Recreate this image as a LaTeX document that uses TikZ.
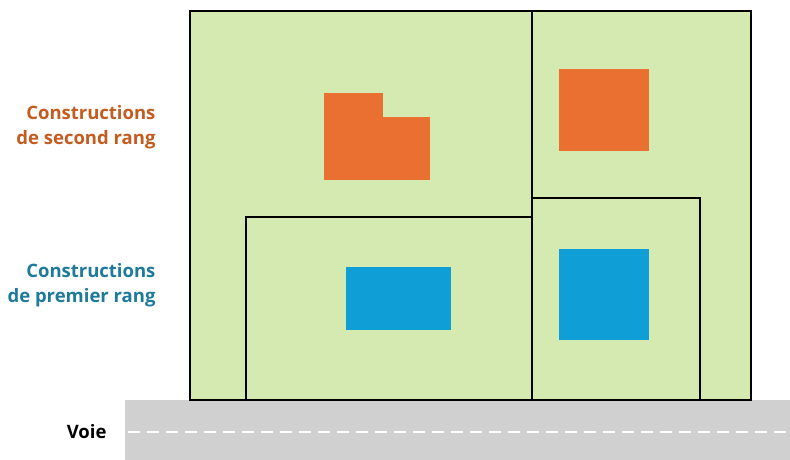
\documentclass[tikz,border=0pt]{standalone}
\usepackage{fontspec}
\setmainfont{Open Sans}
\usepackage{xcolor}
\definecolor{parcelgreen}{RGB}{213,234,176}
\definecolor{bldorange}{RGB}{234,112,50}
\definecolor{bldblue}{RGB}{16,158,214}
\definecolor{roadgray}{RGB}{208,208,208}
\definecolor{txtorange}{RGB}{196,92,32}
\definecolor{txtblue}{RGB}{30,122,155}

\begin{document}
\begin{tikzpicture}[x=1pt,y=-1pt,
    limit/.style={black, line width=2.8pt},
    legend/.style={anchor=east, align=right, font=\fontsize{18.5}{25}\selectfont\bfseries}]
  \useasboundingbox (0,0) rectangle (790,460);
  % voie
  \fill[roadgray] (125,400) rectangle (790,460);
  \draw[white, line width=2.6pt, dash pattern=on 12pt off 7pt] (128,432) -- (790,432);
  \node[legend] (voie) at (110,432) {Voie};
  % parcelles
  \fill[parcelgreen] (190,11) rectangle (751,400);
  % constructions de second rang
  \fill[bldorange] (324,93) rectangle (383,117);
  \fill[bldorange] (324,117) rectangle (430,180);
  \fill[bldorange] (559,69) rectangle (649,151);
  % constructions de premier rang
  \fill[bldblue] (346,267) rectangle (451,330);
  \fill[bldblue] (559,249) rectangle (649,340);
  % limites
  \draw[limit] (190,11) rectangle (751,400);
  \draw[limit] (532,11) -- (532,400);
  \draw[limit] (246,400) -- (246,217) -- (532,217);
  \draw[limit] (532,198) -- (700,198) -- (700,400);
  % legende
  \node[legend, text=txtorange] (second) at (159,127) {Constructions\\de second rang};
  \node[legend, text=txtblue] (premier) at (159,285) {Constructions\\de premier rang};
\end{tikzpicture}
\end{document}
